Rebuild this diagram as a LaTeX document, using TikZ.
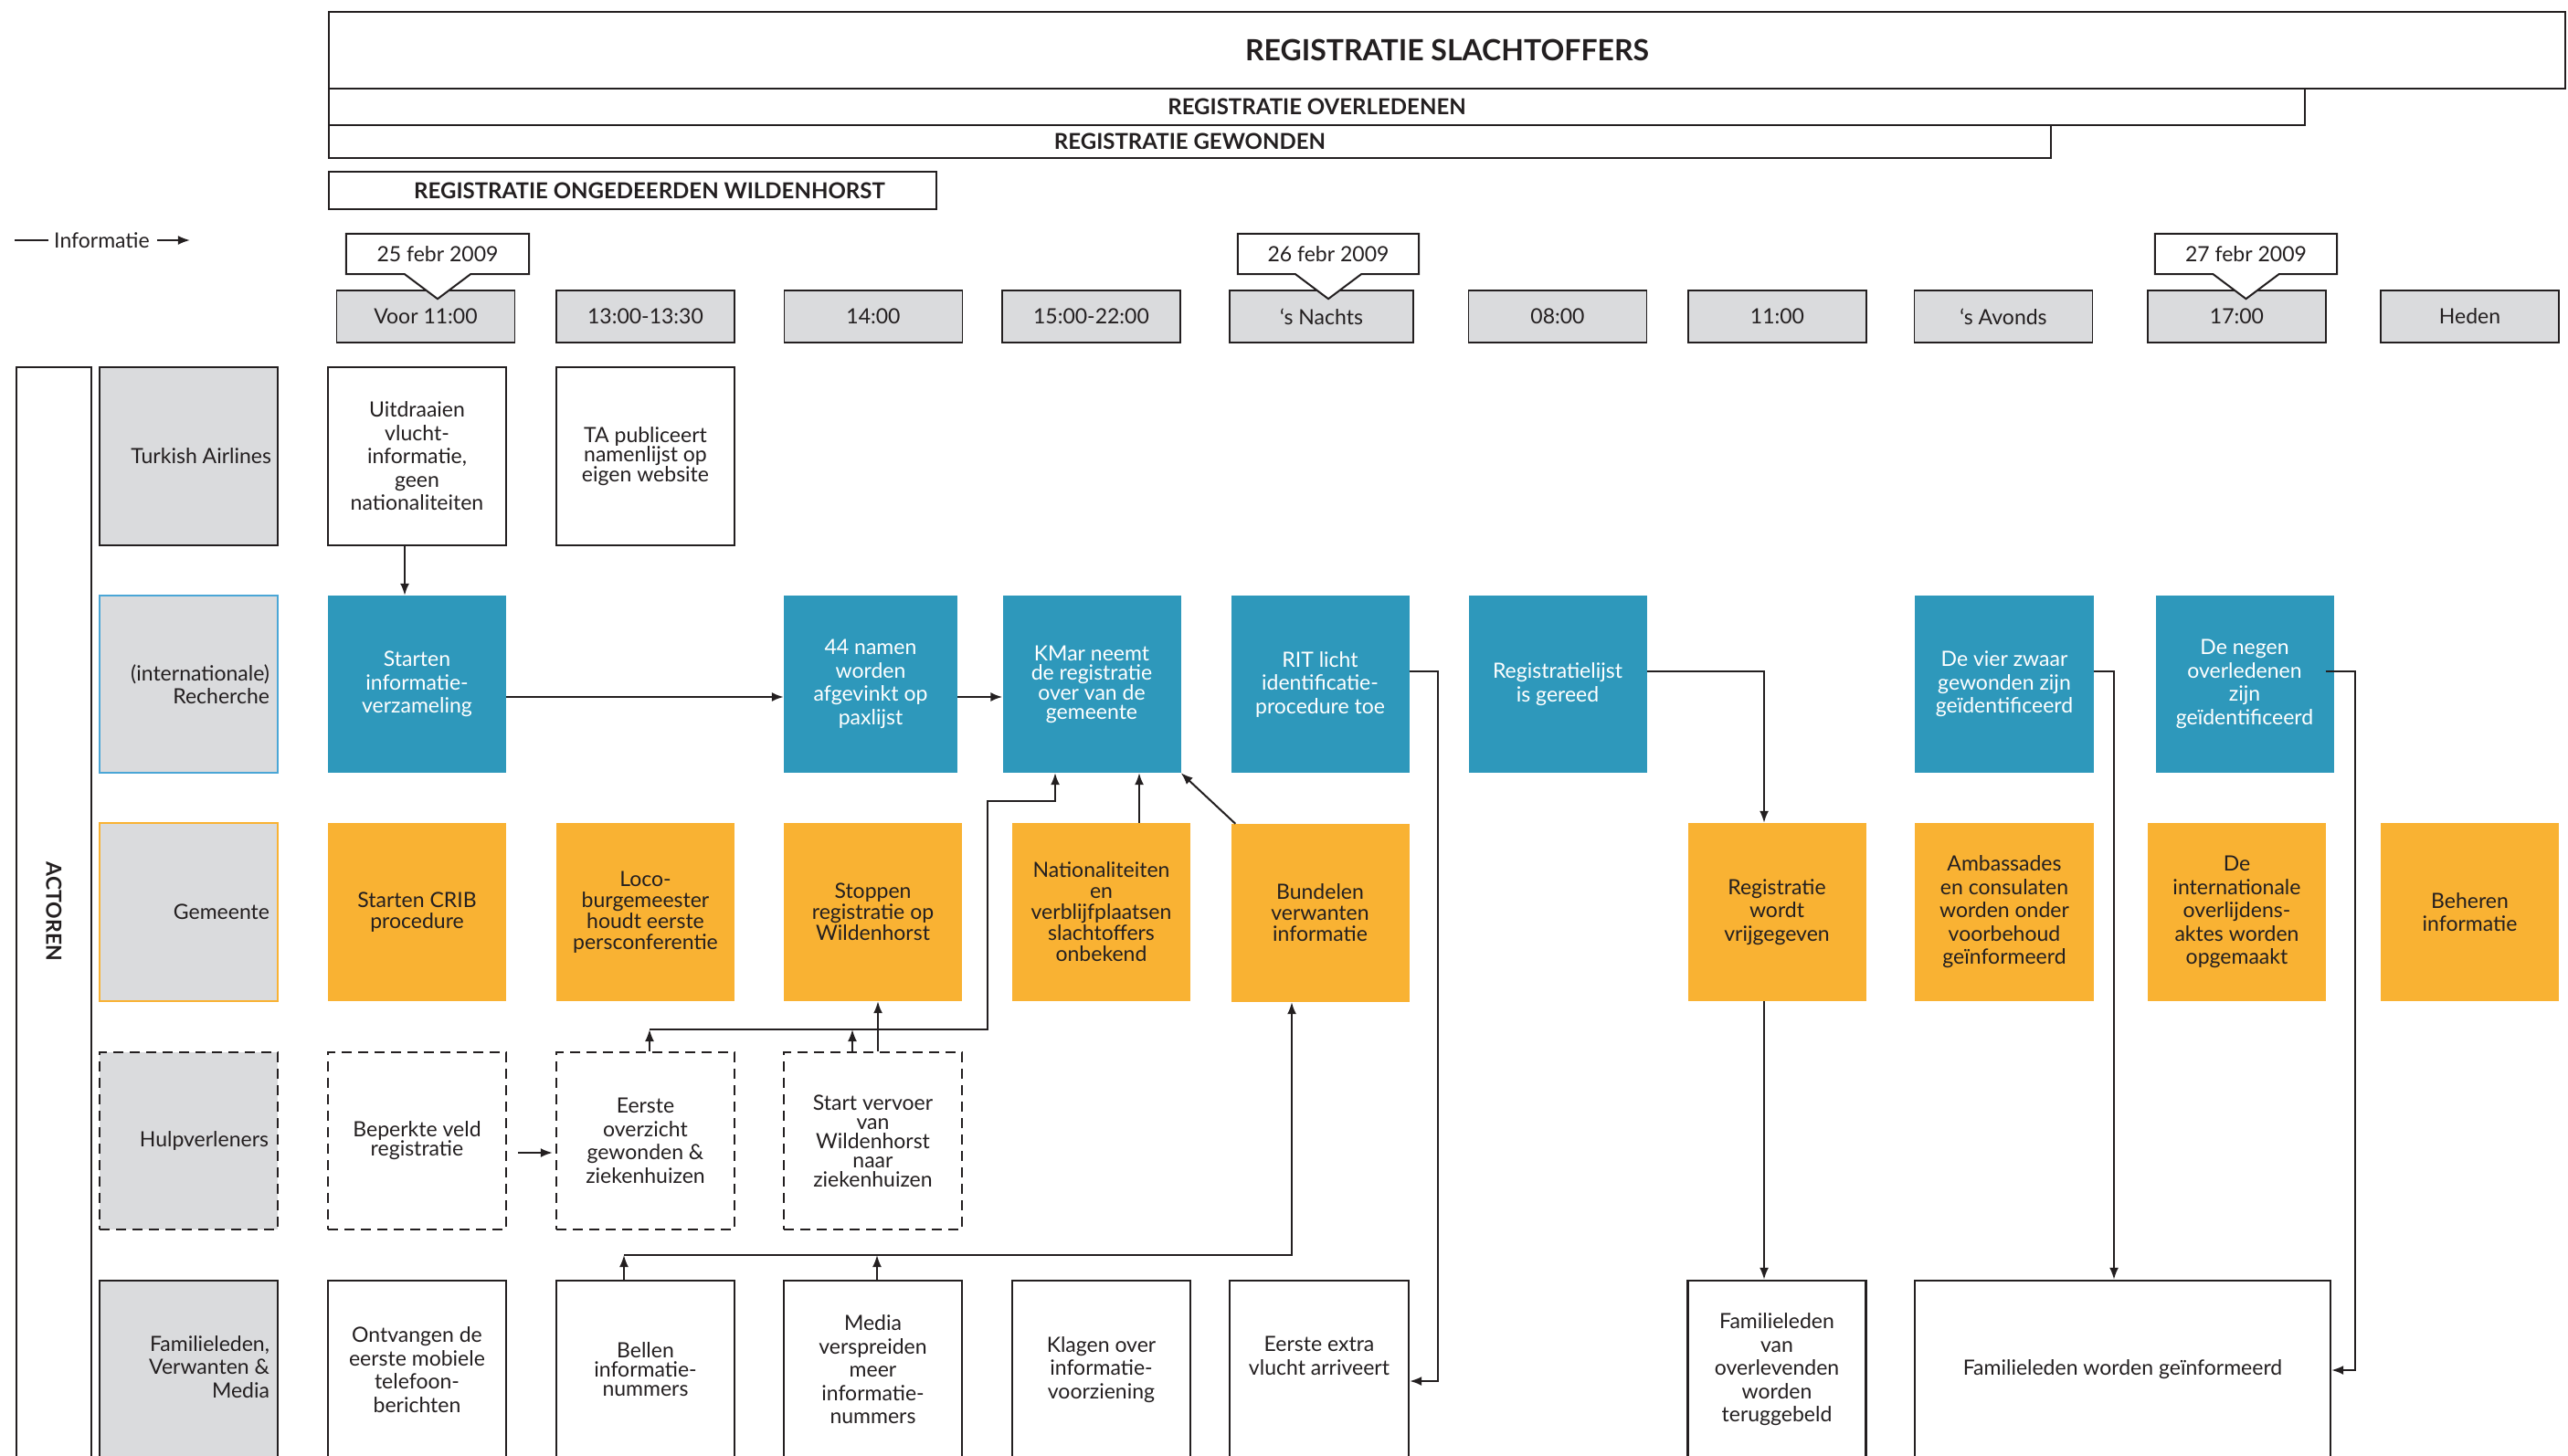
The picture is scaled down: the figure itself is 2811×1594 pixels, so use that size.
\documentclass[tikz,border=0pt]{standalone}
\usepackage{fontspec}
\setmainfont{Lato}
\usetikzlibrary{arrows.meta,calc}
\definecolor{ink}{HTML}{231F20}
\definecolor{recblue}{HTML}{2E98BB}
\definecolor{recline}{HTML}{4AA6D6}
\definecolor{gemorange}{HTML}{F9B233}
\definecolor{lanegray}{HTML}{DADBDD}
\begin{document}
\begin{tikzpicture}[x=1pt,y=-1pt,
  every node/.style={text=ink},
  txt/.style={font=\fontsize{23}{25.5}\selectfont, align=center, inner sep=0pt},
  mid/.style={font=\fontsize{23}{23}\selectfont},
  tight/.style={font=\fontsize{23}{21}\selectfont},
  card/.style={txt, minimum width=195pt, minimum height=195pt},
  plain/.style={card, draw=ink, line width=2.4pt, fill=white},
  recb/.style={card, fill=recblue, text=white, minimum height=194pt},
  gemb/.style={card, fill=gemorange},
  hulpb/.style={card, draw=ink, line width=2.4pt, dash pattern=on 11pt off 7pt, minimum height=194pt},
  actor/.style={inner sep=0pt, minimum width=195pt, minimum height=195pt, fill=lanegray, line width=2.4pt},
  actortxt/.style={txt, align=right, anchor=east},
  tbox/.style={txt, draw=ink, fill=lanegray, line width=1.8pt, minimum width=195pt, minimum height=57pt},
  dbox/.style={inner sep=0pt, minimum width=200pt, minimum height=44pt},
  calloutline/.style={draw=ink, fill=white, line width=2pt, line join=miter},
  band/.style={draw=ink, line width=2.2pt, inner sep=0pt, font=\fontsize{24}{24}\selectfont\bfseries},
  bandtxt/.style={inner sep=0pt, font=\fontsize{24}{24}\selectfont\bfseries},
  arr/.style={draw=ink, line width=2pt, -{Latex[length=13pt,width=10pt]}},
  link/.style={draw=ink, line width=2pt},
]
\useasboundingbox (0,0) rectangle (2811,1594);
\clip (0,0) rectangle (2811,1594);

% ---------- registration bands ----------
\node[band, minimum width=2448pt, minimum height=84pt, font=\fontsize{32}{32}\selectfont\bfseries] (title) at (1584,55) {REGISTRATIE SLACHTOFFERS};
\node[band, minimum width=2163pt, minimum height=40pt] (overl) at (1441.5,117) {REGISTRATIE OVERLEDENEN};
\node[band, minimum width=1885pt, minimum height=36pt] (gewon) at (1302.5,155) {REGISTRATIE GEWONDEN};
\node[band, minimum width=665pt, minimum height=41pt] (onged) at (692.5,208.5) {};
\node[bandtxt] (ongedt) at (711,209) {REGISTRATIE ONGEDEERDEN WILDENHORST};

% ---------- legend ----------
\node[txt] (info) at (111.5,263) {Informatie};
\draw[link] ($(info.west)+(-6,0)$) -- ++(-37,0);
\draw[arr] ($(info.east)+(8,0)$) -- ++(36,0);

% ---------- time line ----------
\node[tbox] (t1) at (466,346.5) {Voor 11:00};
\node[tbox] (t2) at (706.5,346.5) {13:00-13:30};
\node[tbox] (t3) at (956,346.5) {14:00};
\node[tbox] (t4) at (1194.5,346.5) {15:00-22:00};
\node[tbox, minimum width=201pt] (t5) at (1446.5,346.5) {‘s Nachts};
\node[tbox] (t6) at (1705,346.5) {08:00};
\node[tbox] (t7) at (1945.5,346.5) {11:00};
\node[tbox] (t8) at (2193,346.5) {‘s Avonds};
\node[tbox] (t9) at (2448.5,346.5) {17:00};
\node[tbox] (t10) at (2703.5,346.5) {Heden};

% date callouts
\node[dbox] (d25) at (479,278) {};
\draw[calloutline] (d25.north west) -- (d25.north east) -- (d25.south east) -- ($(d25.south)+(36,0)$) -- ($(d25.south)+(0,27)$) -- ($(d25.south)+(-36,0)$) -- (d25.south west) -- cycle;
\node[txt] (d25t) at (d25) {25 febr 2009};
\node[dbox, minimum width=198pt] (d26) at (1454,278) {};
\draw[calloutline] (d26.north west) -- (d26.north east) -- (d26.south east) -- ($(d26.south)+(36,0)$) -- ($(d26.south)+(0,27)$) -- ($(d26.south)+(-36,0)$) -- (d26.south west) -- cycle;
\node[txt] (d26t) at (d26) {26 febr 2009};
\node[dbox, minimum width=199pt] (d27) at (2458.5,278) {};
\draw[calloutline] (d27.north west) -- (d27.north east) -- (d27.south east) -- ($(d27.south)+(36,0)$) -- ($(d27.south)+(0,27)$) -- ($(d27.south)+(-36,0)$) -- (d27.south west) -- cycle;
\node[txt] (d27t) at (d27) {27 febr 2009};

% ---------- actors ----------
\node[draw=ink, line width=2.2pt, inner sep=0pt, minimum width=82pt, minimum height=1210pt] (actbar) at (59,1007) {};
\node[font=\fontsize{23}{23}\selectfont\bfseries, rotate=-90, inner sep=0pt] (actlbl) at (59,998) {ACTOREN};

\node[actor, draw=ink] (aTA) at (206.5,499.5) {};
\node[actortxt] (aTAt) at ($(aTA.east)+(-8,0)$) {Turkish Airlines};
\node[actor, draw=recline, minimum height=194pt] (aRec) at (206.5,749) {};
\node[actortxt] (aRect) at ($(aRec.east)+(-10,0)$) {(internationale)\\Recherche};
\node[actor, draw=gemorange] (aGem) at (206.5,998.5) {};
\node[actortxt] (aGemt) at ($(aGem.east)+(-10,0)$) {Gemeente};
\node[actor, draw=ink, dash pattern=on 11pt off 7pt, minimum height=194pt] (aHulp) at (206.5,1249) {};
\node[actortxt] (aHulpt) at ($(aHulp.east)+(-11,0)$) {Hulpverleners};
\node[actor, draw=ink] (aFam) at (206.5,1499.5) {};
\node[actortxt] (aFamt) at ($(aFam.east)+(-10,-3)$) {Familieleden,\\Verwanten \&\\Media};

% ---------- Turkish Airlines ----------
\node[plain] (uit) at (456.5,499.5) {Uitdraaien\\vlucht-\\informatie,\\geen\\nationaliteiten};
\node[plain, tight] (tapub) at (706.5,499.5) {TA publiceert\\namenlijst op\\eigen website};

% ---------- Recherche ----------
\node[recb] (sinfo) at (456.5,749) {Starten\\informatie-\\verzameling};
\node[recb, minimum width=190pt] (n44) at (953,749) {44 namen\\worden\\afgevinkt op\\paxlijst};
\node[recb, tight] (kmar) at (1195,749) {KMar neemt\\de registratie\\over van de\\gemeente};
\node[recb] (rit) at (1445,749) {RIT licht\\identificatie-\\procedure toe};
\node[recb] (rlijst) at (1705,749) {Registratielijst\\is gereed};
\node[recb, minimum width=196pt] (vier) at (2194,749) {De vier zwaar\\gewonden zijn\\geïdentificeerd};
\node[recb] (negen) at (2457,749) {De negen\\overledenen\\zijn\\geïdentificeerd};

% ---------- Gemeente ----------
\node[gemb, mid] (crib) at (456.5,998.5) {Starten CRIB\\procedure};
\node[gemb, mid] (loco) at (706.5,998.5) {Loco-\\burgemeester\\houdt eerste\\persconferentie};
\node[gemb, mid] (stop) at (955.5,998.5) {Stoppen\\registratie op\\Wildenhorst};
\node[gemb, mid] (natio) at (1205.5,998.5) {Nationaliteiten\\en\\verblijfplaatsen\\slachtoffers\\onbekend};
\node[gemb, mid] (bundel) at (1445,999.5) {Bundelen\\verwanten\\informatie};
\node[gemb] (vrij) at (1945,998.5) {Registratie\\wordt\\vrijgegeven};
\node[gemb, minimum width=196pt] (amb) at (2194,998.5) {Ambassades\\en consulaten\\worden onder\\voorbehoud\\geïnformeerd};
\node[gemb] (intl) at (2448.5,998.5) {De\\internationale\\overlijdens-\\aktes worden\\opgemaakt};
\node[gemb] (beh) at (2703.5,998.5) {Beheren\\informatie};

% ---------- Hulpverleners ----------
\node[hulpb, tight] (bep) at (456.5,1249) {Beperkte veld\\registratie};
\node[hulpb] (overz) at (706.5,1249) {Eerste\\overzicht\\gewonden \&\\ziekenhuizen};
\node[hulpb, tight] (vervoer) at (955.5,1249) {Start vervoer\\van\\Wildenhorst\\naar\\ziekenhuizen};

% ---------- Familieleden, verwanten & media ----------
\node[plain] (ontv) at (456.5,1499.5) {Ontvangen de\\eerste mobiele\\telefoon-\\berichten};
\node[plain, tight] (bellen) at (706.5,1499.5) {Bellen\\informatie-\\nummers};
\node[plain] (media) at (955.5,1499.5) {Media\\verspreiden\\meer\\informatie-\\nummers};
\node[plain] (klagen) at (1205.5,1499.5) {Klagen over\\informatie-\\voorziening};
\node[plain, minimum width=196pt] (extra) at (1444,1499.5) {};
\node[txt] (extrat) at ($(extra)+(0,-15)$) {Eerste extra\\vlucht arriveert};
\node[plain] (famov) at (1945,1499.5) {Familieleden\\van\\overlevenden\\worden\\teruggebeld};
\node[plain, minimum width=455pt] (fwg) at (2323.5,1499.5) {Familieleden worden geïnformeerd};

% ---------- routing coordinates ----------
\coordinate (xUit) at (443,0);
\coordinate (yRec) at (0,763);
\coordinate (yOut) at (0,735);
\coordinate (xOvz) at (711,0);
\coordinate (xVv) at (933,0);
\coordinate (xStop) at (961,0);
\coordinate (yHulp) at (0,1127);
\coordinate (xTrunk) at (1081,0);
\coordinate (yTrunk) at (0,877);
\coordinate (xKm) at (1155,0);
\coordinate (xNat) at (1247,0);
\coordinate (xRit) at (1574,0);
\coordinate (yExtra) at (0,1512);
\coordinate (xBel) at (683,0);
\coordinate (xMed) at (960,0);
\coordinate (yFam) at (0,1374);
\coordinate (xBun) at (1414,0);
\coordinate (xLijst) at (1931,0);
\coordinate (xVier) at (2314,0);
\coordinate (xNeg) at (2578,0);
\coordinate (yFwg) at (0,1500);
\coordinate (yBep) at (0,1262);

% ---------- connectors ----------
\draw[arr] (uit.south -| xUit) -- (sinfo.north -| xUit);
\draw[arr] (sinfo.east |- yRec) -- (n44.west |- yRec);
\draw[arr] (n44.east |- yRec) -- (kmar.west |- yRec);

\draw[arr] (overz.north -| xOvz) -- (xOvz |- yHulp);
\draw[arr] (vervoer.north -| xVv) -- (xVv |- yHulp);
\draw[arr] (xOvz |- yHulp) -- (xTrunk |- yHulp) -- (xTrunk |- yTrunk) -- (xKm |- yTrunk) -- (kmar.south -| xKm);
\draw[arr] (vervoer.north -| xStop) -- (stop.south -| xStop);
\draw[arr] (natio.north -| xNat) -- (kmar.south -| xNat);
\draw[arr] ($(bundel.north west)+(5,0)$) -- (kmar.south east);

\draw[arr] (rit.east |- yOut) -- (xRit |- yOut) -- (xRit |- yExtra) -- (extra.east |- yExtra);

\draw[arr] (bellen.north -| xBel) -- (xBel |- yFam);
\draw[arr] (media.north -| xMed) -- (xMed |- yFam);
\draw[arr] (xBel |- yFam) -- (xBun |- yFam) -- (bundel.south -| xBun);

\draw[arr] (rlijst.east |- yOut) -- (xLijst |- yOut) -- (vrij.north -| xLijst);
\draw[arr] (vrij.south -| xLijst) -- (famov.north -| xLijst);
\draw[arr] (vier.east |- yOut) -- (xVier |- yOut) -- (fwg.north -| xVier);
\draw[arr] ($(negen.east |- yOut)+(-9,0)$) -- (xNeg |- yOut) -- (xNeg |- yFwg) -- (fwg.east |- yFwg);

\draw[arr] ($(bep.east |- yBep)+(12,0)$) -- ($(overz.west |- yBep)+(-3,0)$);
\end{tikzpicture}
\end{document}
